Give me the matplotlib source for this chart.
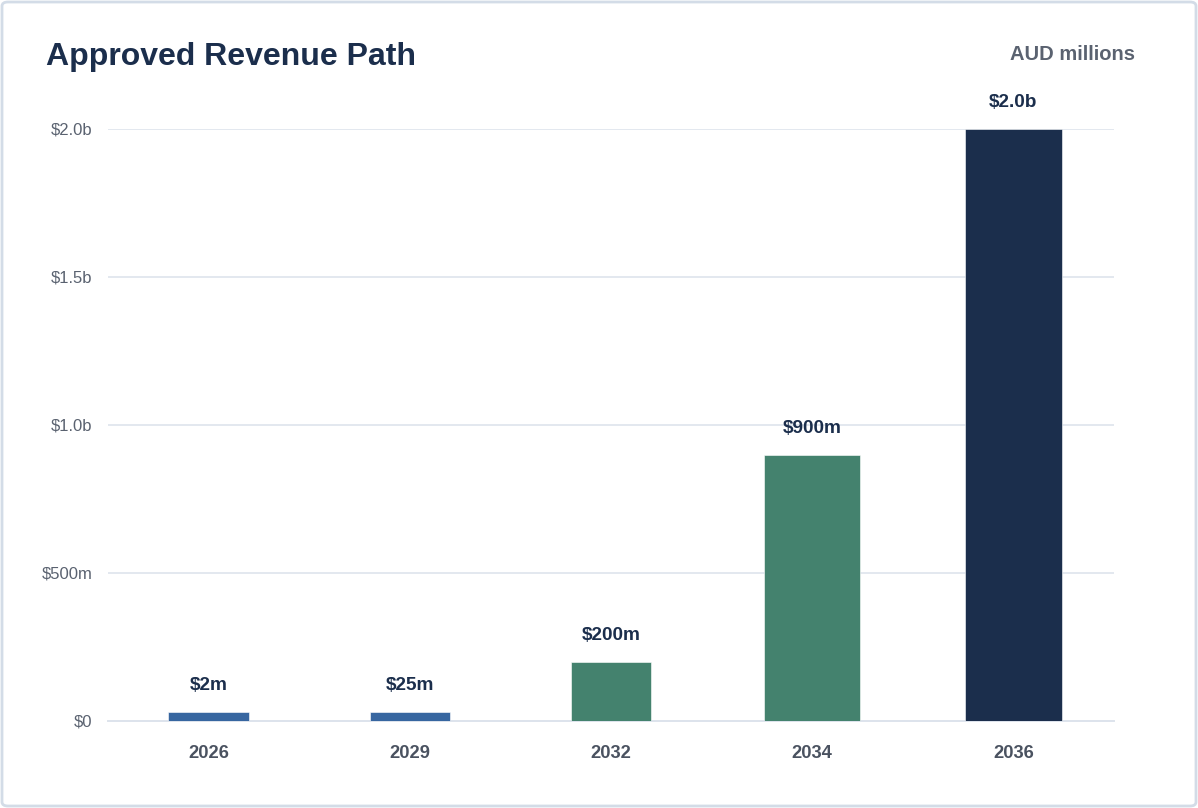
import matplotlib
matplotlib.use("Agg")
import matplotlib.pyplot as plt
from matplotlib.patches import FancyBboxPatch
import numpy as np

plt.rcParams['font.family'] = ['Liberation Sans', 'DejaVu Sans']

# ---- data ----
years = ["2026", "2029", "2032", "2034", "2036"]
revenue_m = [2, 25, 200, 900, 2000]          # AUD millions
value_labels = ["$2m", "$25m", "$200m", "$900m", "$2.0b"]
bar_colors = ["#3766a0", "#3766a0", "#44826e", "#44826e", "#1b2e4c"]
bar_widths = [0.40, 0.40, 0.40, 0.48, 0.48]
y_ticks = [0, 500, 1000, 1500, 2000]
y_tick_labels = ["$0", "$500m", "$1.0b", "$1.5b", "$2.0b"]
min_visible = 30   # minimum drawn bar height so tiny values remain visible

W, H = 1198, 808
fig = plt.figure(figsize=(W / 100, H / 100), dpi=100)
fig.patch.set_facecolor("white")

# card border
card = FancyBboxPatch((2 / W, 2 / H), 1 - 4 / W, 1 - 4 / H,
                      boxstyle="round,pad=0,rounding_size=0.005",
                      transform=fig.transFigure, facecolor="none",
                      edgecolor="#d3dce7", linewidth=2, zorder=-1)
fig.patches.append(card)

ax = fig.add_axes([108 / W, 1 - 721 / H, (1114 - 108) / W, (721 - 129) / H])
ax.set_facecolor("none")

x = np.arange(len(years))
heights = [max(v, min_visible) for v in revenue_m]
bars = ax.bar(x, heights, width=bar_widths, color=bar_colors,
              edgecolor="white", linewidth=0.4, zorder=3)

for xi, h, lab in zip(x, heights, value_labels):
    ax.annotate(lab, (xi, h), xytext=(0, 19), textcoords="offset points",
                ha="center", va="center", fontsize=13.7, fontweight="bold",
                color="#1b2e4c", annotation_clip=False)

ax.set_xlim(-0.5, len(years) - 0.5)
ax.set_ylim(0, 2000)
ax.set_yticks(y_ticks)
ax.set_yticklabels(y_tick_labels)
ax.set_xticks(x)
ax.set_xticklabels(years)

ax.grid(axis="y", color="#e3e8ef", linewidth=1.4, zorder=0)
ax.set_axisbelow(True)
for s in ["top", "right", "left"]:
    ax.spines[s].set_visible(False)
ax.spines["bottom"].set_color("#dde3ec")
ax.spines["bottom"].set_linewidth(1.4)

ax.tick_params(axis="y", length=0, pad=11, labelsize=12, labelcolor="#5a6270")
ax.tick_params(axis="x", length=0, pad=17, labelsize=13.2)
for t in ax.get_xticklabels():
    t.set_fontweight("bold")
    t.set_color("#4a5260")

fig.text(46 / W, 1 - 57 / H, "Approved Revenue Path", fontsize=23,
         fontweight="bold", color="#1b2e4c", ha="left", va="center")
fig.text(1135 / W, 1 - 54 / H, "AUD millions", fontsize=14.5,
         fontweight="bold", color="#5a6270", ha="right", va="center")

fig.savefig("out.png", dpi=100, facecolor="white")
